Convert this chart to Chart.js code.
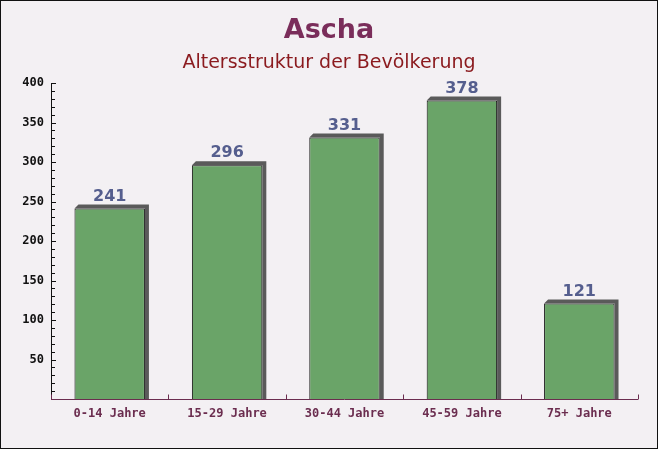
<!DOCTYPE html>
<html>
<head>
<meta charset="utf-8">
<script src="https://cdn.jsdelivr.net/npm/chart.js@4"></script>
<style>
  html, body { margin: 0; padding: 0; background: #f3f0f3; }
  #wrap { width: 658px; height: 449px; }
</style>
</head>
<body>
<div id="wrap"><canvas id="ageChart" width="658" height="449"></canvas></div>
<script>
const categories = ['0-14 Jahre', '15-29 Jahre', '30-44 Jahre', '45-59 Jahre', '75+ Jahre'];
const values = [241, 296, 331, 378, 121];
const yTicks = [50, 100, 150, 200, 250, 300, 350, 400];

const titleText = 'Ascha';
const subtitleText = 'Altersstruktur der Bevölkerung';

// background, frame, titles
const backdrop = {
    id: 'backdrop',
    beforeDraw(chart) {
        const ctx = chart.ctx;
        ctx.save();
        ctx.fillStyle = '#f3f0f3';
        ctx.fillRect(0, 0, chart.width, chart.height);
        ctx.restore();
    },
    afterDraw(chart) {
        const ctx = chart.ctx;
        ctx.save();
        ctx.strokeStyle = '#111';
        ctx.lineWidth = 1;
        ctx.strokeRect(0.5, 0.5, chart.width - 1, chart.height - 1);
        ctx.textAlign = 'center';
        ctx.textBaseline = 'middle';
        ctx.fillStyle = '#7a2d5a';
        ctx.font = 'bold 27px "DejaVu Sans"';
        ctx.fillText(titleText, chart.width / 2, 31);
        ctx.fillStyle = '#8b1a1e';
        ctx.font = '19px "DejaVu Sans"';
        ctx.fillText(subtitleText, chart.width / 2, 63);
        ctx.restore();
    }
};

// shadow behind each bar, plus value labels above
const barExtras = {
    id: 'barExtras',
    beforeDatasetsDraw(chart) {
        const ctx = chart.ctx;
        const meta = chart.getDatasetMeta(0);
        ctx.save();
        ctx.fillStyle = '#5a5a5a';
        meta.data.forEach(bar => {
            const l = bar.x - bar.width / 2, r = bar.x + bar.width / 2;
            const t = bar.y, b = bar.base;
            const d = 4;
            ctx.beginPath();
            ctx.moveTo(l, t);
            ctx.lineTo(l + d, t - d);
            ctx.lineTo(r + d, t - d);
            ctx.lineTo(r + d, b);
            ctx.lineTo(r, b);
            ctx.lineTo(r, t);
            ctx.closePath();
            ctx.fill();
        });
        ctx.restore();
    },
    afterDatasetsDraw(chart) {
        const ctx = chart.ctx;
        const meta = chart.getDatasetMeta(0);
        ctx.save();
        ctx.fillStyle = '#555e8e';
        ctx.font = 'bold 16px "DejaVu Sans"';
        ctx.textAlign = 'center';
        ctx.textBaseline = 'bottom';
        meta.data.forEach((bar, i) => {
            ctx.fillText(values[i], bar.x, bar.y - 4);
        });
        ctx.restore();
    }
};

// axis ticks pointing inward
const innerTicks = {
    id: 'innerTicks',
    afterDraw(chart) {
        const ctx = chart.ctx;
        const y = chart.scales.y, x = chart.scales.x;
        const area = chart.chartArea;
        ctx.save();
        ctx.lineWidth = 1;
        ctx.strokeStyle = '#111';
        for (let v = 10; v <= 400; v += 10) {
            const py = Math.round(y.getPixelForValue(v)) + 0.5;
            const len = v % 50 === 0 ? 5 : 4;
            ctx.beginPath();
            ctx.moveTo(area.left, py);
            ctx.lineTo(area.left + len, py);
            ctx.stroke();
        }
        ctx.beginPath();
        ctx.moveTo(Math.round(area.left) + 0.5, area.top);
        ctx.lineTo(Math.round(area.left) + 0.5, area.bottom);
        ctx.stroke();
        ctx.strokeStyle = '#6b2d4f';
        const by = Math.round(area.bottom) + 0.5;
        ctx.beginPath();
        ctx.moveTo(area.left, by);
        ctx.lineTo(area.right, by);
        ctx.stroke();
        const half = (x.getPixelForValue(1) - x.getPixelForValue(0)) / 2;
        for (let i = 0; i <= categories.length; i++) {
            const px = Math.round(x.getPixelForValue(i) - half) + 0.5;
            ctx.beginPath();
            ctx.moveTo(px, by);
            ctx.lineTo(px, by - 5);
            ctx.stroke();
        }
        ctx.restore();
    }
};

new Chart('ageChart', {
    type: 'bar',
    data: {
        labels: categories,
        datasets: [{
            data: values,
            backgroundColor: 'rgba(100, 160, 98, 0.96)',
            borderColor: '#111',
            borderWidth: 1,
            borderSkipped: 'bottom',
            barPercentage: 0.6,
            categoryPercentage: 1.0
        }]
    },
    options: {
        responsive: false,
        animation: false,
        devicePixelRatio: 1,
        layout: { padding: { top: 83, right: 20, left: 0, bottom: 0 } },
        plugins: {
            legend: { display: false },
            tooltip: { enabled: false }
        },
        scales: {
            x: {
                grid: { display: false, drawTicks: false },
                border: { display: false },
                ticks: {
                    color: '#6b2d4f',
                    font: { family: 'DejaVu Sans Mono', weight: 'bold', size: 12 },
                    padding: 8
                },
                afterFit(scale) { scale.height = 50; }
            },
            y: {
                min: 0,
                max: 400,
                grid: { display: false, drawTicks: false },
                border: { display: false },
                afterBuildTicks(scale) {
                    scale.ticks = yTicks.map(v => ({ value: v }));
                },
                ticks: {
                    color: '#111',
                    font: { family: 'DejaVu Sans Mono', weight: 'bold', size: 12 },
                    padding: 7
                },
                afterFit(scale) { scale.width = 51; }
            }
        }
    },
    plugins: [backdrop, barExtras, innerTicks]
});
</script>
</body>
</html>
